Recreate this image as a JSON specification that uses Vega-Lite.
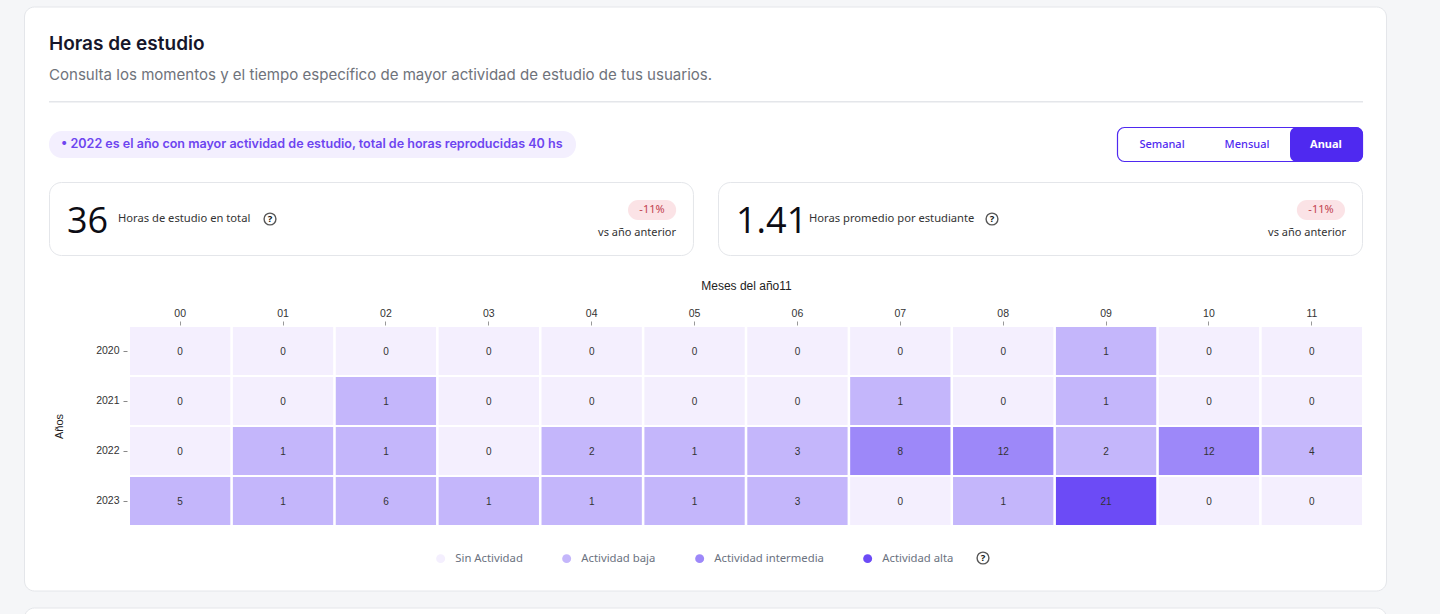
{
"$schema":"https://vega.github.io/schema/vega-lite/v6.json",
"width":1440,"height":614,"padding":0,"autosize":{"type":"none"},
"background":"#f5f6f8",
"config":{"view":{"stroke":null},"text":{"font":"Inter"}},
"datasets":{
"celdas":[
{"anio":"2020","mes":"00","horas":0,"nivel":"Sin Actividad"},{"anio":"2020","mes":"01","horas":0,"nivel":"Sin Actividad"},{"anio":"2020","mes":"02","horas":0,"nivel":"Sin Actividad"},{"anio":"2020","mes":"03","horas":0,"nivel":"Sin Actividad"},{"anio":"2020","mes":"04","horas":0,"nivel":"Sin Actividad"},{"anio":"2020","mes":"05","horas":0,"nivel":"Sin Actividad"},{"anio":"2020","mes":"06","horas":0,"nivel":"Sin Actividad"},{"anio":"2020","mes":"07","horas":0,"nivel":"Sin Actividad"},{"anio":"2020","mes":"08","horas":0,"nivel":"Sin Actividad"},{"anio":"2020","mes":"09","horas":1,"nivel":"Actividad baja"},{"anio":"2020","mes":"10","horas":0,"nivel":"Sin Actividad"},{"anio":"2020","mes":"11","horas":0,"nivel":"Sin Actividad"},
{"anio":"2021","mes":"00","horas":0,"nivel":"Sin Actividad"},{"anio":"2021","mes":"01","horas":0,"nivel":"Sin Actividad"},{"anio":"2021","mes":"02","horas":1,"nivel":"Actividad baja"},{"anio":"2021","mes":"03","horas":0,"nivel":"Sin Actividad"},{"anio":"2021","mes":"04","horas":0,"nivel":"Sin Actividad"},{"anio":"2021","mes":"05","horas":0,"nivel":"Sin Actividad"},{"anio":"2021","mes":"06","horas":0,"nivel":"Sin Actividad"},{"anio":"2021","mes":"07","horas":1,"nivel":"Actividad baja"},{"anio":"2021","mes":"08","horas":0,"nivel":"Sin Actividad"},{"anio":"2021","mes":"09","horas":1,"nivel":"Actividad baja"},{"anio":"2021","mes":"10","horas":0,"nivel":"Sin Actividad"},{"anio":"2021","mes":"11","horas":0,"nivel":"Sin Actividad"},
{"anio":"2022","mes":"00","horas":0,"nivel":"Sin Actividad"},{"anio":"2022","mes":"01","horas":1,"nivel":"Actividad baja"},{"anio":"2022","mes":"02","horas":1,"nivel":"Actividad baja"},{"anio":"2022","mes":"03","horas":0,"nivel":"Sin Actividad"},{"anio":"2022","mes":"04","horas":2,"nivel":"Actividad baja"},{"anio":"2022","mes":"05","horas":1,"nivel":"Actividad baja"},{"anio":"2022","mes":"06","horas":3,"nivel":"Actividad baja"},{"anio":"2022","mes":"07","horas":8,"nivel":"Actividad intermedia"},{"anio":"2022","mes":"08","horas":12,"nivel":"Actividad intermedia"},{"anio":"2022","mes":"09","horas":2,"nivel":"Actividad baja"},{"anio":"2022","mes":"10","horas":12,"nivel":"Actividad intermedia"},{"anio":"2022","mes":"11","horas":4,"nivel":"Actividad baja"},
{"anio":"2023","mes":"00","horas":5,"nivel":"Actividad baja"},{"anio":"2023","mes":"01","horas":1,"nivel":"Actividad baja"},{"anio":"2023","mes":"02","horas":6,"nivel":"Actividad baja"},{"anio":"2023","mes":"03","horas":1,"nivel":"Actividad baja"},{"anio":"2023","mes":"04","horas":1,"nivel":"Actividad baja"},{"anio":"2023","mes":"05","horas":1,"nivel":"Actividad baja"},{"anio":"2023","mes":"06","horas":3,"nivel":"Actividad baja"},{"anio":"2023","mes":"07","horas":0,"nivel":"Sin Actividad"},{"anio":"2023","mes":"08","horas":1,"nivel":"Actividad baja"},{"anio":"2023","mes":"09","horas":21,"nivel":"Actividad alta"},{"anio":"2023","mes":"10","horas":0,"nivel":"Sin Actividad"},{"anio":"2023","mes":"11","horas":0,"nivel":"Sin Actividad"}
],
"tarjetas":[
{"tarjeta":"total","valor":"36","etiqueta":"Horas de estudio en total","cambio":"-11%","comparacion":"vs año anterior"},
{"tarjeta":"promedio","valor":"1.41","etiqueta":"Horas promedio por estudiante","cambio":"-11%","comparacion":"vs año anterior"}
]
},
"resolve":{"scale":{"x":"independent","y":"independent"}},
"layer":[
{"data":{"values":[{"p":"tarjeta"}]},"mark":{"type":"rect","fill":"#ffffff","stroke":"#e4e6ea","cornerRadius":10},
 "encoding":{"x":{"field":"p","type":"nominal","axis":null,"scale":{"type":"band","range":[24.5,1386.5],"paddingInner":0,"paddingOuter":0}},"y":{"field":"p","type":"nominal","axis":null,"scale":{"type":"band","range":[7,591],"paddingInner":0,"paddingOuter":0}}}},
{"data":{"values":[{"p":"siguiente"}]},"mark":{"type":"rect","fill":"#ffffff","stroke":"#e4e6ea","cornerRadius":10},
 "encoding":{"x":{"field":"p","type":"nominal","axis":null,"scale":{"type":"band","range":[24.5,1386.5],"paddingInner":0,"paddingOuter":0}},"y":{"field":"p","type":"nominal","axis":null,"scale":{"type":"band","range":[608,660],"paddingInner":0,"paddingOuter":0}}}},
{"data":{"values":[{"p":"divisor"}]},"mark":{"type":"rect","fill":"#e4e6ea"},
 "encoding":{"x":{"field":"p","type":"nominal","axis":null,"scale":{"type":"band","range":[49,1363],"paddingInner":0,"paddingOuter":0}},"y":{"field":"p","type":"nominal","axis":null,"scale":{"type":"band","range":[101,102.5],"paddingInner":0,"paddingOuter":0}}}},
{"data":{"values":[{"p":"aviso"}]},"mark":{"type":"rect","fill":"#f3effe","cornerRadius":13},
 "encoding":{"x":{"field":"p","type":"nominal","axis":null,"scale":{"type":"band","range":[49,576],"paddingInner":0,"paddingOuter":0}},"y":{"field":"p","type":"nominal","axis":null,"scale":{"type":"band","range":[131,158],"paddingInner":0,"paddingOuter":0}}}},
{"data":{"values":[{"p":"selector"}]},"mark":{"type":"rect","fill":"#ffffff","stroke":"#4f29f0","strokeWidth":1.2,"cornerRadius":7},
 "encoding":{"x":{"field":"p","type":"nominal","axis":null,"scale":{"type":"band","range":[1117.5,1362.5],"paddingInner":0,"paddingOuter":0}},"y":{"field":"p","type":"nominal","axis":null,"scale":{"type":"band","range":[127.5,161.5],"paddingInner":0,"paddingOuter":0}}}},
{"data":{"values":[{"p":"anual"}]},"mark":{"type":"rect","fill":"#4f29f0","cornerRadius":7},
 "encoding":{"x":{"field":"p","type":"nominal","axis":null,"scale":{"type":"band","range":[1290,1363],"paddingInner":0,"paddingOuter":0}},"y":{"field":"p","type":"nominal","axis":null,"scale":{"type":"band","range":[127,162],"paddingInner":0,"paddingOuter":0}}}},
{"data":{"name":"tarjetas"},"mark":{"type":"rect","fill":"#ffffff","stroke":"#e4e6ea","cornerRadius":12},
 "encoding":{"x":{"field":"tarjeta","type":"nominal","sort":null,"axis":null,"scale":{"type":"band","range":[49.5,1362.5],"paddingInner":0.0375,"paddingOuter":0}},"y":{"field":"comparacion","type":"nominal","axis":null,"scale":{"type":"band","range":[182.5,255.5],"paddingInner":0,"paddingOuter":0}}}},
{"data":{"name":"tarjetas"},"mark":{"type":"rect","fill":"#fbe3e6","cornerRadius":10},
 "encoding":{"x":{"field":"tarjeta","type":"nominal","sort":null,"axis":null,"scale":{"type":"band","range":[628,1345],"paddingInner":0.928,"paddingOuter":0}},"y":{"field":"comparacion","type":"nominal","axis":null,"scale":{"type":"band","range":[200,220],"paddingInner":0,"paddingOuter":0}}}},
{"data":{"name":"celdas"},"mark":{"type":"rect"},
 "encoding":{
  "x":{"field":"mes","type":"nominal","title":"Meses del año11","scale":{"type":"band","range":[130,1362],"paddingInner":0.025,"paddingOuter":0},
   "axis":{"orient":"top","offset":-325,"zindex":1,"domain":false,"labelAngle":0,"tickSize":4,"tickColor":"#999999","labelFont":"Liberation Sans","labelFontSize":10.5,"labelColor":"#333333","labelPadding":3,"titleFont":"Liberation Sans","titleFontSize":12,"titleFontWeight":"normal","titleColor":"#222222","titlePadding":16}},
  "y":{"field":"anio","type":"nominal","title":"Años","scale":{"type":"band","range":[327,525],"paddingInner":0.04,"paddingOuter":0},
   "axis":{"orient":"left","offset":-127,"zindex":1,"domain":false,"tickSize":4,"tickColor":"#888888","labelFont":"Liberation Sans","labelFontSize":10.5,"labelColor":"#333333","labelPadding":4,"titleFont":"Liberation Sans","titleFontSize":11,"titleFontWeight":"normal","titleColor":"#222222","titlePadding":31}},
  "color":{"field":"nivel","type":"nominal","scale":{"domain":["Sin Actividad","Actividad baja","Actividad intermedia","Actividad alta"],"range":["#f4effe","#c4b6fb","#9d88f9","#6c4bf6"]},
   "legend":{"orient":"none","legendX":435,"legendY":553,"direction":"horizontal","title":null,"columns":4,"symbolType":"circle","symbolSize":80,"symbolStrokeWidth":0,"labelFont":"Noto Sans","labelFontSize":11.3,"labelColor":"#6b7280","labelOffset":9,"columnPadding":38,"gridAlign":"none"}}}},
{"data":{"name":"celdas"},"mark":{"type":"text","font":"Liberation Sans","fontSize":10,"color":"#333333","dy":0.5},
 "encoding":{"text":{"field":"horas","type":"quantitative"},
  "x":{"field":"mes","type":"nominal","axis":null,"scale":{"type":"band","range":[130,1362],"paddingInner":0.025,"paddingOuter":0}},
  "y":{"field":"anio","type":"nominal","axis":null,"scale":{"type":"band","range":[327,525],"paddingInner":0.04,"paddingOuter":0}}}},
{"data":{"values":[{"t":"Horas de estudio"}]},"mark":{"type":"text","align":"left","fontSize":19,"fontWeight":600,"color":"#16162a"},
 "encoding":{"text":{"field":"t"},"x":{"field":"t","type":"nominal","axis":null,"scale":{"type":"point","range":[49,49],"padding":0}},"y":{"field":"t","type":"nominal","axis":null,"scale":{"type":"point","range":[44,44],"padding":0}}}},
{"data":{"values":[{"t":"Consulta los momentos y el tiempo específico de mayor actividad de estudio de tus usuarios."}]},"mark":{"type":"text","align":"left","fontSize":15.05,"color":"#6f737b"},
 "encoding":{"text":{"field":"t"},"x":{"field":"t","type":"nominal","axis":null,"scale":{"type":"point","range":[49,49],"padding":0}},"y":{"field":"t","type":"nominal","axis":null,"scale":{"type":"point","range":[75,75],"padding":0}}}},
{"data":{"values":[{"t":"•  2022 es el año con mayor actividad de estudio, total de horas reproducidas 40 hs"}]},"mark":{"type":"text","align":"left","fontSize":12.55,"fontWeight":600,"color":"#6d45f0"},
 "encoding":{"text":{"field":"t"},"x":{"field":"t","type":"nominal","axis":null,"scale":{"type":"point","range":[61,61],"padding":0}},"y":{"field":"t","type":"nominal","axis":null,"scale":{"type":"point","range":[144,144],"padding":0}}}},
{"data":{"values":[{"t":"Semanal"},{"t":"Mensual"}]},"mark":{"type":"text","fontSize":11,"fontWeight":500,"font":"Noto Sans","color":"#4f29f0"},
 "encoding":{"text":{"field":"t"},"x":{"field":"t","type":"nominal","sort":null,"axis":null,"scale":{"type":"point","range":[1162,1247],"padding":0}},"y":{"field":"t","type":"nominal","axis":null,"scale":{"type":"point","range":[145,145],"padding":0}}}},
{"data":{"values":[{"t":"Anual"}]},"mark":{"type":"text","fontSize":11,"fontWeight":700,"font":"Noto Sans","color":"#ffffff"},
 "encoding":{"text":{"field":"t"},"x":{"field":"t","type":"nominal","axis":null,"scale":{"type":"point","range":[1326,1326],"padding":0}},"y":{"field":"t","type":"nominal","axis":null,"scale":{"type":"point","range":[145,145],"padding":0}}}},
{"data":{"name":"tarjetas"},"mark":{"type":"text","align":"left","font":"Open Sans","fontSize":36,"fontWeight":500,"color":"#0c0c14"},
 "encoding":{"text":{"field":"valor"},"x":{"field":"tarjeta","type":"nominal","sort":null,"axis":null,"scale":{"type":"point","range":[67,736],"padding":0}},"y":{"field":"comparacion","type":"nominal","axis":null,"scale":{"type":"point","range":[222,222],"padding":0}}}},
{"data":{"name":"tarjetas"},"mark":{"type":"text","align":"left","font":"Noto Sans","fontSize":11.2,"color":"#333333"},
 "encoding":{"text":{"field":"etiqueta"},"x":{"field":"tarjeta","type":"nominal","sort":null,"axis":null,"scale":{"type":"point","range":[118,809],"padding":0}},"y":{"field":"comparacion","type":"nominal","axis":null,"scale":{"type":"point","range":[219,219],"padding":0}}}},
{"data":{"name":"tarjetas"},"mark":{"type":"text","font":"Noto Sans","fontSize":11,"color":"#c2424f"},
 "encoding":{"text":{"field":"cambio"},"x":{"field":"tarjeta","type":"nominal","sort":null,"axis":null,"scale":{"type":"point","range":[652,1321],"padding":0}},"y":{"field":"comparacion","type":"nominal","axis":null,"scale":{"type":"point","range":[210,210],"padding":0}}}},
{"data":{"name":"tarjetas"},"mark":{"type":"text","align":"right","font":"Noto Sans","fontSize":11,"color":"#333333"},
 "encoding":{"text":{"field":"comparacion"},"x":{"field":"tarjeta","type":"nominal","sort":null,"axis":null,"scale":{"type":"point","range":[676,1346],"padding":0}},"y":{"field":"comparacion","type":"nominal","axis":null,"scale":{"type":"point","range":[233,233],"padding":0}}}},
{"data":{"name":"tarjetas"},"mark":{"type":"point","shape":"circle","size":140,"filled":false,"stroke":"#111111","strokeWidth":1.4},
 "encoding":{"x":{"field":"tarjeta","type":"nominal","sort":null,"axis":null,"scale":{"type":"point","range":[270,992],"padding":0}},"y":{"field":"comparacion","type":"nominal","axis":null,"scale":{"type":"point","range":[219,219],"padding":0}}}},
{"data":{"values":[{"t":"?","u":"a"},{"t":"?","u":"b"}]},"mark":{"type":"text","font":"Noto Sans","fontSize":9.5,"fontWeight":700,"color":"#111111"},
 "encoding":{"text":{"field":"t"},"x":{"field":"u","type":"nominal","axis":null,"scale":{"type":"point","range":[270,992],"padding":0}},"y":{"field":"t","type":"nominal","axis":null,"scale":{"type":"point","range":[219,219],"padding":0}}}},
{"data":{"values":[{"t":"?"}]},"mark":{"type":"point","shape":"circle","size":140,"filled":false,"stroke":"#111111","strokeWidth":1.4},
 "encoding":{"x":{"field":"t","type":"nominal","axis":null,"scale":{"type":"point","range":[983,983],"padding":0}},"y":{"field":"t","type":"nominal","axis":null,"scale":{"type":"point","range":[558,558],"padding":0}}}},
{"data":{"values":[{"t":"?"}]},"mark":{"type":"text","font":"Noto Sans","fontSize":9.5,"fontWeight":700,"color":"#111111"},
 "encoding":{"text":{"field":"t"},"x":{"field":"t","type":"nominal","axis":null,"scale":{"type":"point","range":[983,983],"padding":0}},"y":{"field":"t","type":"nominal","axis":null,"scale":{"type":"point","range":[558,558],"padding":0}}}}
]
}
